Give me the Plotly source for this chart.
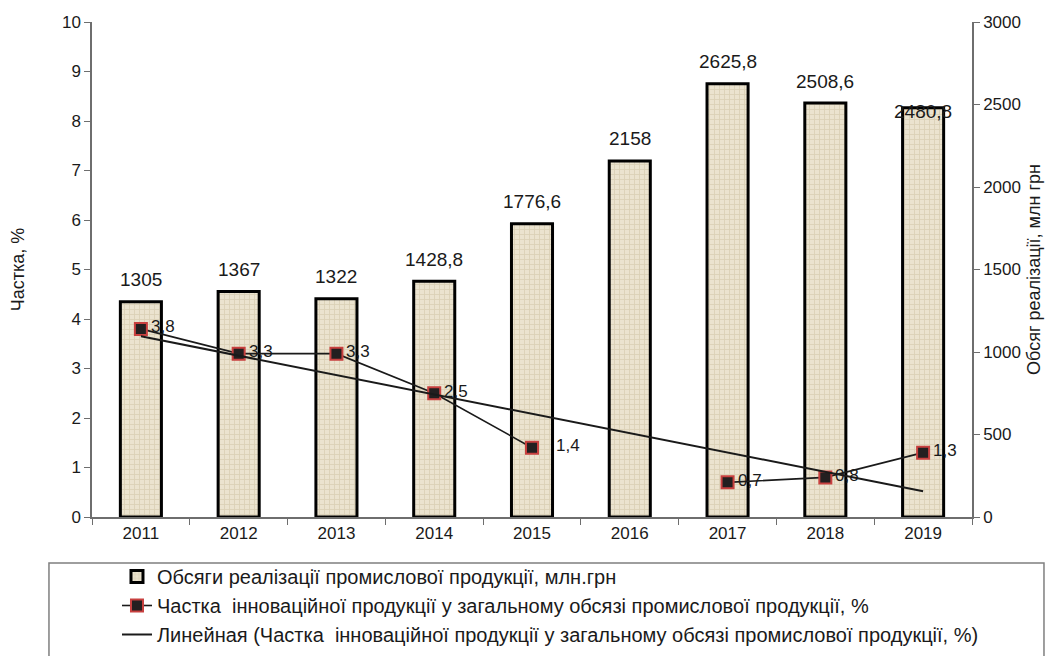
import plotly.graph_objects as go

years = ["2011", "2012", "2013", "2014", "2015", "2016", "2017", "2018", "2019"]
sales = [1305, 1367, 1322, 1428.8, 1776.6, 2158, 2625.8, 2508.6, 2480.8]
share = [3.8, 3.3, 3.3, 2.5, 1.4, None, 0.7, 0.8, 1.3]
trend_years = ["2011", "2019"]
trend_values = [3.65, 0.52]

sales_labels = ["1305", "1367", "1322", "1428,8", "1776,6", "2158", "2625,8", "2508,6", "2480,8"]
share_labels = ["3,8", "3,3", "3,3", "2,5", "1,4", "", "0,7", "0,8", "1,3"]

name_bar = "Обсяги реалізації промислової продукції, млн.грн"
name_line = "Частка  інноваційної продукції у загальному обсязі промислової продукції, %"
name_trend = "Линейная (Частка  інноваційної продукції у загальному обсязі промислової продукції, %)"

FONT = "Liberation Sans, Arial, sans-serif"
TXT = "#1a1a1a"
AXC = "#6e6e6e"

fig = go.Figure()

fig.add_trace(go.Bar(
    x=years, y=sales, name=name_bar, yaxis="y", width=0.42,
    legendgroup="g1",
    marker=dict(
        color="#e9e0cb",
        line=dict(color="#000000", width=3),
        pattern=dict(shape="+", fgcolor="#c9bb9a", bgcolor="#ebe3cf", size=5, solidity=0.3),
    ),
))

fig.add_trace(go.Scatter(
    x=years, y=share, name=name_line, yaxis="y2", mode="lines+markers",
    connectgaps=False, legendgroup="g2",
    line=dict(color="#1a1a1a", width=1.6),
    marker=dict(symbol="square", size=12, color="#231f20", line=dict(color="#c8403f", width=2)),
))

fig.add_trace(go.Scatter(
    x=trend_years, y=trend_values, name=name_trend, yaxis="y2", mode="lines",
    legendgroup="g3",
    line=dict(color="#1a1a1a", width=2),
))

annotations = []
bar_nudge = {"2019": -26}
for i, (yr, v, lab) in enumerate(zip(years, sales, sales_labels)):
    annotations.append(dict(
        x=i, y=v, xref="x", yref="y", text=lab, showarrow=False,
        xanchor="center", yanchor="middle", yshift=22 + bar_nudge.get(yr, 0),
        font=dict(family=FONT, size=19, color=TXT),
    ))
share_nudge = {"2015": 14}
for i, (yr, v, lab) in enumerate(zip(years, share, share_labels)):
    if v is None:
        continue
    annotations.append(dict(
        x=i, y=v, xref="x", yref="y2", text=lab, showarrow=False,
        xanchor="left", yanchor="middle", xshift=8 + share_nudge.get(yr, 0), yshift=2,
        font=dict(family=FONT, size=17, color=TXT),
    ))

fig.update_layout(
    width=1045, height=648,
    margin=dict(l=84, r=81, t=14, b=139, autoexpand=False),
    paper_bgcolor="white", plot_bgcolor="white",
    font=dict(family=FONT, size=17, color=TXT),
    showlegend=True,
    xaxis=dict(
        type="category", categoryorder="array", categoryarray=years,
        range=[-0.5, len(years) - 0.5],
        tickson="boundaries", ticks="outside", ticklen=6,
        tickcolor=AXC, showline=True, linecolor=AXC, linewidth=1.5,
        showgrid=False, zeroline=False, tickangle=0,
        tickfont=dict(family=FONT, size=17, color=TXT),
    ),
    yaxis=dict(
        side="right", range=[0, 3000], dtick=500, ticks="outside", ticklen=6,
        tickcolor=AXC, showline=True, linecolor=AXC, linewidth=1.5,
        showgrid=False, zeroline=False,
        title=dict(text="Обсяг реалізації, млн грн", standoff=7,
                   font=dict(family=FONT, size=18, color=TXT)),
        tickfont=dict(family=FONT, size=17, color=TXT),
    ),
    yaxis2=dict(
        overlaying="y", side="left", range=[0, 10], dtick=1, ticks="outside", ticklen=6,
        tickcolor=AXC, showline=True, linecolor=AXC, linewidth=1.5,
        showgrid=False, zeroline=False,
        title=dict(text="Частка, %", standoff=37,
                   font=dict(family=FONT, size=18, color=TXT)),
        tickfont=dict(family=FONT, size=17, color=TXT),
    ),
    legend=dict(
        x=0.0284, y=-0.0808, xanchor="left", yanchor="top",
        bgcolor="rgba(0,0,0,0)", borderwidth=0,
        font=dict(family=FONT, size=20, color=TXT),
        tracegroupgap=0, traceorder="grouped",
    ),
    shapes=[dict(
        type="rect", xref="paper", yref="paper",
        x0=-0.0489, x1=1.0818, y0=-0.40, y1=-0.0929,
        line=dict(color="#7f7f7f", width=1.5), fillcolor="rgba(0,0,0,0)", layer="below",
    )],
    annotations=annotations,
)

fig.write_html("out.html")
